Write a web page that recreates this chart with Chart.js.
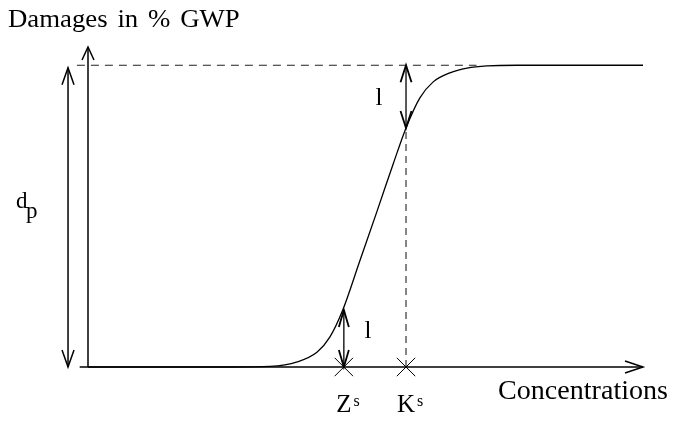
<!DOCTYPE html>
<html>
<head>
<meta charset="utf-8">
<script src="https://cdn.jsdelivr.net/npm/chart.js@4"></script>
<style>
    body { margin: 0; background: #fff; }
    #wrap { width: 675px; height: 423px; }
</style>
</head>
<body>
<div id="wrap"><canvas id="chart"></canvas></div>
<script>
// -- Data (axis units 0..100) --
const curveX = [0, 25.6, 32.8, 37.7, 41.3, 43.6, 45.9, 49.0, 52.1, 55.0, 57.3, 59.8, 62.2, 65.2, 68.3, 71.9, 77.3, 100];
const curveY = [0, 0, 0.2, 1.6, 4.7, 9.4, 17.8, 33.3, 48.8, 63.5, 74.7, 84.1, 89.1, 91.9, 93.4, 94.1, 94.3, 94.3];
const markX = [46.1, 57.3];          // Z^s, K^s on the concentration axis
const markY = [17.8, 74.7];          // curve height above each mark
const markLabels = ['Z', 'K'];
const plateau = 94.3;                // d_p level
const dashEndX = 70;                 // where the dashed plateau line meets the curve

const FONT = '"Liberation Serif", "DejaVu Serif", serif';

function pts(xs, ys) {
    return xs.map((x, i) => ({ x: x, y: ys[i] }));
}

function line(data, extra) {
    return Object.assign({
        data: data,
        showLine: true,
        borderColor: '#000',
        borderWidth: 1.5,
        pointRadius: 0,
        clip: false
    }, extra || {});
}

// arrows: [fromPoint, toPoint, headAtFrom, headAtTo, style]
const arrows = [
    [{ x: 0, y: 0 }, { x: 0, y: 100 }, false, true, { len: 13, half: 6, lw: 1.5 }],
    [{ x: -1.5, y: 0 }, { x: 100, y: 0 }, false, true, { len: 18, half: 6, lw: 1.5 }],
    [{ x: -3.6, y: 0 }, { x: -3.6, y: plateau - 0.8 }, true, true, { len: 17, half: 6, lw: 1.5 }],
    [{ x: markX[0], y: 0 }, { x: markX[0], y: markY[0] }, true, true, { len: 17, half: 5, lw: 1.8 }],
    [{ x: markX[1], y: markY[1] }, { x: markX[1], y: plateau }, true, true, { len: 17, half: 5.5, lw: 1.8 }]
];

function drawHead(ctx, tx, ty, dx, dy, s) {
    const n = Math.hypot(dx, dy);
    dx /= n; dy /= n;
    const bx = tx - dx * s.len, by = ty - dy * s.len;
    ctx.beginPath();
    ctx.moveTo(bx - dy * s.half, by + dx * s.half);
    ctx.lineTo(tx, ty);
    ctx.lineTo(bx + dy * s.half, by - dx * s.half);
    ctx.lineWidth = s.lw;
    ctx.strokeStyle = '#000';
    ctx.stroke();
}

// draws text, optionally stretched horizontally, returns its drawn width
function drawText(ctx, text, x, y, size, align, stretch, wordGap) {
    stretch = stretch || 1;
    ctx.save();
    ctx.font = size + 'px ' + FONT;
    if (wordGap) ctx.wordSpacing = wordGap + 'px';
    const w = ctx.measureText(text).width * stretch;
    let left = x;
    if (align === 'center') left = x - w / 2;
    if (align === 'right') left = x - w;
    ctx.translate(left, y);
    ctx.scale(stretch, 1);
    ctx.textAlign = 'left';
    ctx.fillText(text, 0, 0);
    ctx.restore();
    return w;
}

const annotatePlugin = {
    id: 'annotate',
    afterDatasetsDraw(chart) {
        const ctx = chart.ctx;
        const xs = chart.scales.x, ys = chart.scales.y;
        ctx.save();
        ctx.lineJoin = 'miter';
        arrows.forEach(a => {
            const p0 = { x: xs.getPixelForValue(a[0].x), y: ys.getPixelForValue(a[0].y) };
            const p1 = { x: xs.getPixelForValue(a[1].x), y: ys.getPixelForValue(a[1].y) };
            if (a[2]) drawHead(ctx, p0.x, p0.y, p0.x - p1.x, p0.y - p1.y, a[4]);
            if (a[3]) drawHead(ctx, p1.x, p1.y, p1.x - p0.x, p1.y - p0.y, a[4]);
        });

        const area = chart.chartArea;
        ctx.fillStyle = '#000';
        ctx.textBaseline = 'alphabetic';

        // axis titles
        drawText(ctx, 'Damages in % GWP', 8, 27, 26, 'left', 1.03, 3);
        drawText(ctx, 'Concentrations', 668, area.bottom + 32, 27, 'right', 1.04);

        // Z^s, K^s
        markX.forEach((mx, i) => {
            const px = xs.getPixelForValue(mx);
            const w = drawText(ctx, markLabels[i], px, area.bottom + 45, 25, 'center');
            drawText(ctx, 's', px + w / 2 + 2, area.bottom + 39, 16, 'left');
        });

        // d_p
        const dpY = ys.getPixelForValue(plateau / 2);
        ctx.font = '23px ' + FONT;
        ctx.textAlign = 'left';
        ctx.fillText('d', 16, dpY - 8);
        ctx.fillText('p', 26, dpY + 2);

        // l labels
        ctx.font = '25px ' + FONT;
        ctx.textAlign = 'center';
        ctx.fillText('l', xs.getPixelForValue(markX[0]) + 24, ys.getPixelForValue(markY[0] / 2) - 1);
        ctx.fillText('l', xs.getPixelForValue(markX[1]) - 27, ys.getPixelForValue((markY[1] + plateau) / 2) + 8);
        ctx.restore();
    }
};

new Chart(document.getElementById('chart'), {
    type: 'scatter',
    data: {
        datasets: [
            line(pts(curveX, curveY), { borderWidth: 1.3, cubicInterpolationMode: 'monotone' }),
            line([{ x: 0, y: 0 }, { x: 0, y: 100 }]),
            line([{ x: -1.5, y: 0 }, { x: 100, y: 0 }]),
            line([{ x: -2, y: plateau }, { x: dashEndX, y: plateau }], { borderWidth: 1.1, borderColor: '#222', borderDash: [8, 6] }),
            line([{ x: markX[1], y: 0 }, { x: markX[1], y: markY[1] }], { borderWidth: 1.1, borderColor: '#222', borderDash: [7, 5] }),
            line([{ x: -3.6, y: 0 }, { x: -3.6, y: plateau - 0.8 }]),
            line([{ x: markX[0], y: 0 }, { x: markX[0], y: markY[0] }], { borderWidth: 1.3 }),
            line([{ x: markX[1], y: markY[1] }, { x: markX[1], y: plateau }], { borderWidth: 1.3 }),
            {
                data: markX.map(x => ({ x: x, y: 0 })),
                showLine: false,
                pointStyle: 'crossRot',
                pointRadius: 13,
                borderColor: '#000',
                borderWidth: 1,
                clip: false
            }
        ]
    },
    options: {
        responsive: true,
        maintainAspectRatio: false,
        animation: false,
        events: [],
        layout: { padding: { left: 88, right: 32, top: 47, bottom: 56 } },
        scales: {
            x: { type: 'linear', min: 0, max: 100, display: false },
            y: { type: 'linear', min: 0, max: 100, display: false }
        },
        plugins: {
            legend: { display: false },
            tooltip: { enabled: false }
        }
    },
    plugins: [annotatePlugin]
});
</script>
</body>
</html>
